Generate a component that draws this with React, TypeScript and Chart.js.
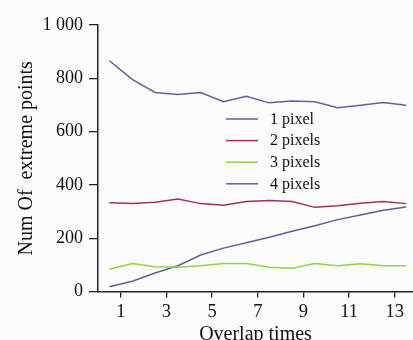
import React, { useEffect, useRef } from "react";
import { Chart, registerables } from "chart.js";

Chart.register(...registerables);

const overlapTimes = [0.5, 1.5, 2.5, 3.5, 4.5, 5.5, 6.5, 7.5, 8.5, 9.5, 10.5, 11.5, 12.5, 13.5];
const onePixel = [866, 796, 747, 739, 747, 712, 733, 708, 715, 712, 690, 699, 709, 699];
const twoPixels = [333, 330, 335, 347, 330, 324, 338, 342, 338, 316, 322, 331, 338, 330];
const threePixels = [84, 105, 93, 91, 97, 105, 105, 91, 88, 105, 97, 104, 97, 97];
const fourPixels = [18, 39, 70, 97, 137, 163, 183, 204, 226, 247, 270, 287, 305, 317];
const seriesLabels = ["1 pixel", "2 pixels", "3 pixels", "4 pixels"];
const xTicks = [1, 3, 5, 7, 9, 11, 13];
const yTicks = [0, 200, 400, 600, 800, 1000];

const BLUE = "#5d60a8";
const RED = "#a02e68";
const GREEN = "#8fd445";
const FONT = "'Liberation Serif', 'Times New Roman', serif";

const legendPlugin = {
  id: "innerLegend",
  afterDraw(chart: any) {
    const ctx = chart.ctx;
    const x0 = 226;
    const x1 = 258;
    const tx = 270;
    const y0 = 119;
    const dy = 21.6;
    ctx.save();
    chart.data.datasets.forEach((ds: any, i: number) => {
      const y = y0 + i * dy;
      ctx.strokeStyle = ds.borderColor;
      ctx.lineWidth = 1.5;
      ctx.beginPath();
      ctx.moveTo(x0, y);
      ctx.lineTo(x1, y);
      ctx.stroke();
      ctx.fillStyle = "#111";
      ctx.font = `16px ${FONT}`;
      ctx.textAlign = "left";
      ctx.textBaseline = "middle";
      ctx.fillText(ds.label, tx, y + 0.5);
    });
    ctx.restore();
  },
};

const bgPlugin = {
  id: "bg",
  beforeDraw(chart: any) {
    const ctx = chart.ctx;
    ctx.save();
    ctx.fillStyle = "#fbfbfb";
    ctx.fillRect(0, 0, chart.width, chart.height);
    ctx.restore();
  },
};

function toPoints(vals: number[]) {
  return vals.map((v, i) => ({ x: overlapTimes[i], y: v }));
}

export default function App() {
  const ref = useRef<HTMLCanvasElement | null>(null);
  useEffect(() => {
    if (!ref.current) return;
    const colors = [BLUE, RED, GREEN, BLUE];
    const series = [onePixel, twoPixels, threePixels, fourPixels];
    const chart = new Chart(ref.current, {
      type: "line",
      data: {
        datasets: series.map((s, i) => ({
          label: seriesLabels[i],
          data: toPoints(s),
          borderColor: colors[i],
          backgroundColor: colors[i],
          borderWidth: 1.5,
          pointRadius: 0,
          tension: 0,
          fill: false,
        })),
      },
      options: {
        animation: false,
        responsive: false,
        maintainAspectRatio: false,
        layout: { padding: { top: 25, right: 0, bottom: 0, left: 0 } },
        plugins: {
          legend: { display: false },
          tooltip: { enabled: false },
        },
        scales: {
          x: {
            type: "linear",
            min: 0,
            max: 13.8,
            afterBuildTicks: (scale: any) => {
              scale.ticks = xTicks.map((v) => ({ value: v }));
            },
            afterFit: (scale: any) => {
              scale.height = 48.4;
            },
            grid: {
              display: true,
              drawOnChartArea: false,
              drawTicks: true,
              tickLength: 6,
              color: "#222",
              lineWidth: 1.3,
            },
            border: { display: true, color: "#222", width: 1.5 },
            ticks: {
              color: "#111",
              font: { family: FONT, size: 18.5 },
              padding: 3.5,
              maxRotation: 0,
              autoSkip: false,
              callback: (v: any) => String(v),
            },
            title: {
              display: true,
              text: "Overlap times",
              color: "#111",
              font: { family: FONT, size: 20, lineHeight: 1 },
              padding: { top: 0, bottom: -5 },
            },
          },
          y: {
            type: "linear",
            min: 0,
            max: 1000,
            afterBuildTicks: (scale: any) => {
              scale.ticks = yTicks.map((v) => ({ value: v }));
            },
            afterFit: (scale: any) => {
              scale.width = 98;
            },
            grid: {
              display: true,
              drawOnChartArea: false,
              drawTicks: true,
              tickLength: 9,
              color: "#222",
              lineWidth: 1.3,
            },
            border: { display: true, color: "#222", width: 1.5 },
            ticks: {
              color: "#111",
              font: { family: FONT, size: 18 },
              padding: 6,
              autoSkip: false,
              callback: (v: any) => {
                const n = Number(v);
                return n >= 1000 ? `${Math.floor(n / 1000)} ${String(n % 1000).padStart(3, "0")}` : String(n);
              },
            },
            title: {
              display: true,
              text: "Num Of  extreme points",
              color: "#111",
              font: { family: FONT, size: 20, lineHeight: 1 },
              padding: { top: 17, bottom: 0 },
            },
          },
        },
      },
      plugins: [bgPlugin, legendPlugin],
    });
    return () => chart.destroy();
  }, []);
  return (
    <div
      style={{
        position: "fixed",
        left: 0,
        top: 0,
        width: 413,
        height: 340,
        overflow: "hidden",
        background: "#fbfbfb",
      }}
    >
      <canvas ref={ref} width={413} height={340} style={{ width: 413, height: 340, display: "block" }} />
    </div>
  );
}
